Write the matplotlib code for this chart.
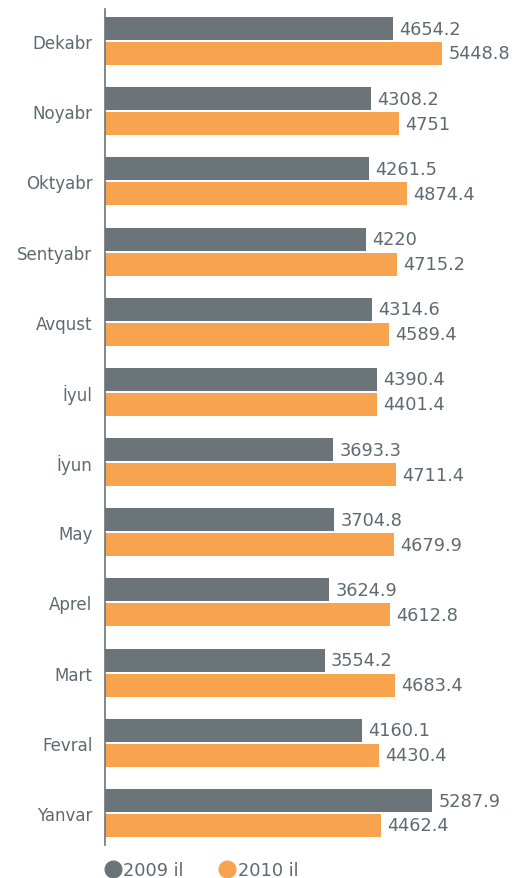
import matplotlib
matplotlib.use("Agg")
import matplotlib.pyplot as plt
from matplotlib.lines import Line2D

months = ["Yanvar", "Fevral", "Mart", "Aprel", "May", "İyun",
          "İyul", "Avqust", "Sentyabr", "Oktyabr", "Noyabr", "Dekabr"]
v2009 = [5287.9, 4160.1, 3554.2, 3624.9, 3704.8, 3693.3,
         4390.4, 4314.6, 4220, 4261.5, 4308.2, 4654.2]
v2010 = [4462.4, 4430.4, 4683.4, 4612.8, 4679.9, 4711.4,
         4401.4, 4589.4, 4715.2, 4874.4, 4751, 5448.8]
labels2009 = ["5287.9", "4160.1", "3554.2", "3624.9", "3704.8", "3693.3",
              "4390.4", "4314.6", "4220", "4261.5", "4308.2", "4654.2"]
labels2010 = ["4462.4", "4430.4", "4683.4", "4612.8", "4679.9", "4711.4",
              "4401.4", "4589.4", "4715.2", "4874.4", "4751", "5448.8"]
series_names = ["2009 il", "2010 il"]

GRAY = "#6b7479"
ORANGE = "#f8a34d"
TEXT = "#5f6a70"

plt.rcParams['font.family'] = ['DejaVu Sans']

fig = plt.figure(figsize=(5.25, 8.79), dpi=100)
ax = fig.add_axes([105/525, 33/879, 420/525, 836/879])

y = list(range(len(months)))
h = 0.328
off = 0.178
ax.barh([i + off for i in y], v2009, height=h, color=GRAY)
ax.barh([i - off for i in y], v2010, height=h, color=ORANGE)

for i in y:
    ax.text(v2009[i] + 100, i + off, labels2009[i], va="center", ha="left",
            fontsize=12.8, color=TEXT)
    ax.text(v2010[i] + 100, i - off, labels2010[i], va="center", ha="left",
            fontsize=12.8, color=TEXT)

ax.set_xlim(0, 6790)
ax.set_ylim(-0.456, 11.456)
ax.set_yticks(y)
ax.set_yticklabels(months, fontsize=12, color=TEXT)
ax.tick_params(axis="y", length=0, pad=9)
ax.set_xticks([])
for s in ["top", "right", "bottom"]:
    ax.spines[s].set_visible(False)
ax.spines["left"].set_color(GRAY)
ax.spines["left"].set_linewidth(1.2)

handles = [Line2D([], [], marker="o", linestyle="none", markersize=12,
                  markerfacecolor=GRAY, markeredgecolor=GRAY),
           Line2D([], [], marker="o", linestyle="none", markersize=12,
                  markerfacecolor=ORANGE, markeredgecolor=ORANGE)]
fig.legend(handles, series_names, loc="center left",
           bbox_to_anchor=(86/525, 1 - 871/879), ncol=2, frameon=False,
           fontsize=12.8, labelcolor=TEXT, handletextpad=0.0,
           columnspacing=1.85, handlelength=1.2)

fig.savefig("out.png", dpi=100)
